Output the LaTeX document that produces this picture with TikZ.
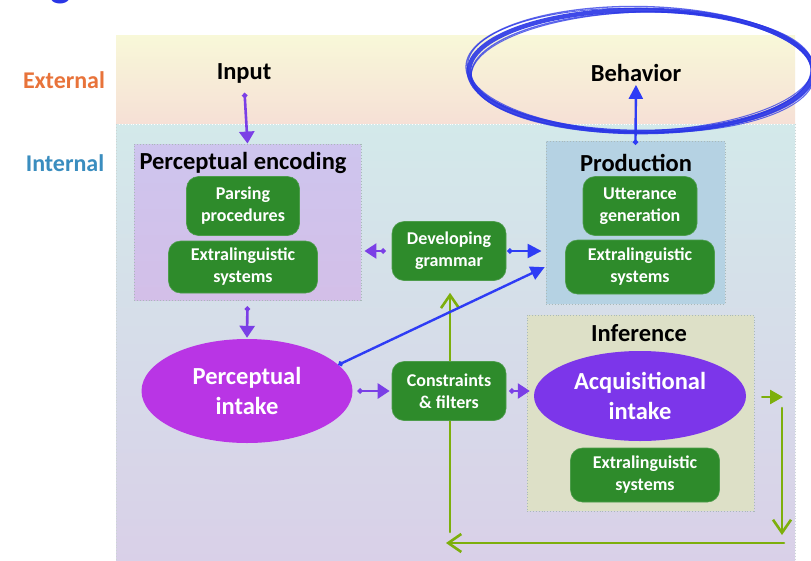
\documentclass[tikz,border=0pt]{standalone}
\usepackage{fontspec}
\setmainfont{Carlito}
\usetikzlibrary{arrows.meta,shapes.geometric,calc}
\definecolor{extTop}{HTML}{F8F8D8}
\definecolor{extBot}{HTML}{F6E0D6}
\definecolor{intTop}{HTML}{D3E9EA}
\definecolor{intMid}{HTML}{D5DCEA}
\definecolor{intBot}{HTML}{D9D0E8}
\definecolor{pencTop}{HTML}{CEC5EE}
\definecolor{pencBot}{HTML}{D3BFE8}
\definecolor{prodC}{HTML}{B5D2E3}
\definecolor{infC}{HTML}{DDE0C7}
\definecolor{gboxC}{HTML}{2E8B2B}
\definecolor{pintC}{HTML}{B935E5}
\definecolor{acqC}{HTML}{7C36EA}
\definecolor{purpA}{HTML}{7B3FE6}
\definecolor{blueA}{HTML}{2E3CF5}
\definecolor{greenA}{HTML}{7DAF0C}
\definecolor{extTxt}{HTML}{E8733A}
\definecolor{intTxt}{HTML}{3A8DBF}
\definecolor{penC}{HTML}{2A36E6}
\definecolor{borderC}{HTML}{A9B9B9}
\pgfdeclarelayer{bg}
\pgfdeclarelayer{conn}
\pgfsetlayers{bg,conn,main}
\tikzset{
  regbox/.style={draw=borderC, dotted, line width=0.9pt, inner sep=0pt},
  title/.style={font=\bfseries\fontsize{24.5}{26}\selectfont, text=black, inner sep=0pt},
  side/.style={font=\bfseries\fontsize{24}{26}\selectfont, inner sep=0pt},
  gbox/.style={fill=gboxC, draw=gboxC!85!white, line width=0.6pt, rounded corners=12pt, text=white,
    font=\bfseries\fontsize{18}{22}\selectfont, align=center, inner sep=0pt},
  ell/.style={ellipse, text=white, font=\bfseries\fontsize{24.5}{30}\selectfont, align=center, inner sep=0pt},
  parr/.style={draw=purpA, line width=2.6pt, {Circle[length=5pt]}-{Triangle[length=12pt,width=15pt]}},
  barr/.style={draw=blueA, line width=2.4pt, {Circle[length=5pt]}-{Triangle[length=14pt,width=14pt]}},
  garr/.style={draw=greenA, line width=2.6pt, line cap=round, -{Straight Barb[length=13pt,width=18pt,line width=2.6pt]}},
  gtri/.style={draw=greenA, line width=2.6pt, line cap=round, -{Triangle[length=13pt,width=14pt]}},
  handpen/.style={draw=penC, line width=1.3pt, opacity=0.75},
}
\begin{document}
\begin{tikzpicture}[x=1pt,y=-1pt]
\useasboundingbox (0,0) rectangle (811,560);

\begin{pgfonlayer}{bg}
  \fill[white] (0,0) rectangle (811,560);
  \fill[top color=extTop, bottom color=extBot] (116,35) rectangle (795,123);
  \shade[top color=intTop, middle color=intMid, bottom color=intBot] (116,124) rectangle (795,562);
  \draw[draw=white, dotted, line width=0.9pt] (116,124) -- (795,124);
  \draw[draw=borderC!60!white, dotted, line width=0.9pt] (116,124) -- (116,562) (795,124) -- (795,562);
  \shade[top color=pencTop, bottom color=pencBot] (134,144) rectangle (361,300);
  \node[regbox, minimum width=227pt, minimum height=156pt] (penc) at (247.5,222) {};
  \fill[prodC] (546,141) rectangle (725,304);
  \node[regbox, minimum width=179pt, minimum height=163pt] (prod) at (635.5,222.5) {};
  \fill[infC] (527,315) rectangle (754,511);
  \node[regbox, minimum width=227pt, minimum height=196pt] (inf) at (640.5,413) {};
\end{pgfonlayer}

% title fragment
\node[font=\bfseries\fontsize{44}{44}\selectfont, text=penC, anchor=base, inner sep=0pt] (ttl) at (61,-4) {g};

% side labels
\node[side, text=extTxt] (ext) at (64,80) {External};
\node[side, text=intTxt] (int) at (65,163) {Internal};

% titles
\node[title] (input) at (244,73) {Input};
\node[title] (behav) at (636,73) {Behavior};
\node[title] (pencT) at (243,163) {Perceptual encoding};
\node[title] (prodT) at (636,163) {Production};
\node[title] (infT) at (639,333) {Inference};

% green boxes
\node[gbox, minimum width=113pt, minimum height=59pt] (parse) at (243,206) {Parsing\\procedures};
\node[gbox, minimum width=149pt, minimum height=52pt] (ext1) at (243,267) {Extralinguistic\\systems};
\node[gbox, minimum width=114pt, minimum height=59pt] (dg) at (449,251) {Developing\\grammar};
\node[gbox, minimum width=114pt, minimum height=59pt] (cf) at (449,391) {Constraints\\\& filters};
\node[gbox, minimum width=114pt, minimum height=59pt] (utt) at (640,206) {Utterance\\generation};
\node[gbox, minimum width=149pt, minimum height=54pt] (ext2) at (640,267) {Extralinguistic\\systems};
\node[gbox, minimum width=149pt, minimum height=54pt] (ext3) at (645,475) {Extralinguistic\\systems};

% ellipses
\node[ell, fill=pintC, minimum width=211pt, minimum height=104pt] (pint) at (247,391) {Perceptual\\intake};
\node[ell, fill=acqC, minimum width=212pt, minimum height=90pt] (acq) at (640,396) {Acquisitional\\intake};

% purple arrows
\draw[parr, shorten <=10pt] (input.south) -- (penc.north);
\draw[parr, shorten <=6pt, shorten >=1pt] (penc.south) -- (pint.north);
\draw[parr, shorten <=6pt, shorten >=3pt] (dg.west) -- (penc.east |- dg.west);
\draw[parr, shorten <=5pt, shorten >=2pt] (pint.east) -- (cf.west);
\draw[parr, shorten <=3pt, shorten >=4pt] (cf.east) -- (cf.east -| acq.west);

% blue arrows
\draw[barr, shorten <=1pt, shorten >=4pt] (dg.east) -- (dg.east -| prod.west);
\draw[barr, shorten >=1pt] (pint.16) -- ($(prod.south west)!0.23!(prod.north west)$);
\draw[barr, shorten <=-4pt, shorten >=3pt] (prod.north) -- (behav.south);

% green arrows
\coordinate (g1) at (783,397);
\coordinate (g2) at (782,408);
\coordinate (g3) at (782,535);
\coordinate (g4) at (784,543);
\coordinate (g5) at (446,543);
\coordinate (g6) at (450,532);
\begin{pgfonlayer}{conn}
  \draw[garr, shorten >=12pt] (g6) -- (g6 |- dg.south);
\end{pgfonlayer}
\draw[gtri, shorten <=16pt] (acq.east |- g1) -- (g1);
\draw[garr] (g2) -- (g3);
\draw[garr] (g4) -- (g5);

% hand-drawn highlight ellipse
\draw[handpen, line width=4.6pt, opacity=0.9] (641,71) ellipse [x radius=172, y radius=61];
\draw[handpen, rotate around={1:(641,70)}] (641,72.5) ellipse [x radius=170, y radius=60.5];
\draw[handpen, rotate around={-1:(641,70)}] (640.5,69.5) ellipse [x radius=174.5, y radius=63];
\draw[handpen, line width=1pt, rotate around={1.8:(641,70)}] (642,71.5) ellipse [x radius=171, y radius=59.5];
\draw[handpen, line width=1pt, rotate around={-1.8:(641,70)}] (641,70.5) ellipse [x radius=173.5, y radius=62];
\end{tikzpicture}
\end{document}
